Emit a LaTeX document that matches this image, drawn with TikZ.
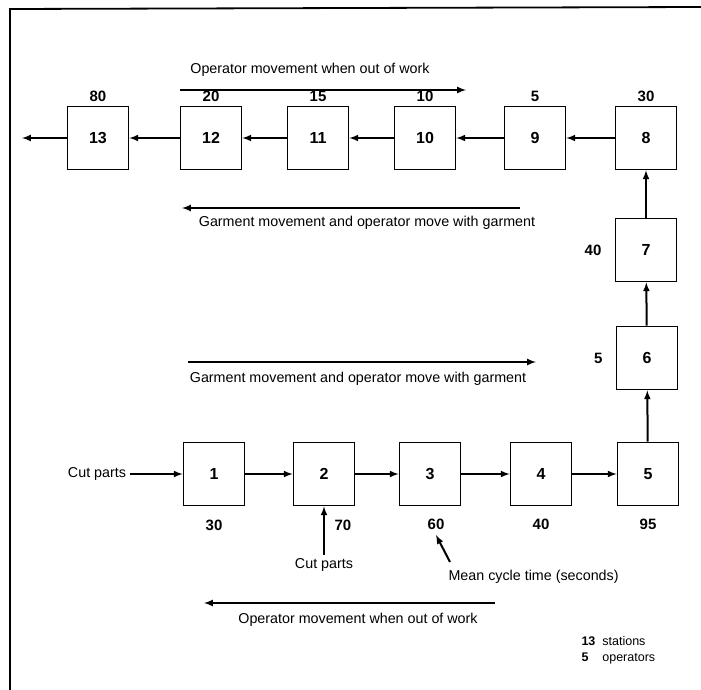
\documentclass[tikz,border=0pt]{standalone}
\usepackage{fontspec}
\setmainfont{Liberation Sans}
\usetikzlibrary{arrows}
\usetikzlibrary{positioning, math}

\tikzset{
station/.style={draw, line width=1.8pt, minimum width=\w pt, minimum height=\h pt, inner sep=0pt, font=\bfseries\fontsize{16}{16}\selectfont},
tnum/.style={inner sep=1pt, font=\bfseries\fontsize{15}{15}\selectfont},
note/.style={font=\fontsize{14.3}{16}\selectfont},
flow/.style={-latex, line width=2pt},
}

\begin{document}
\begin{tikzpicture}[x=1pt,y=-1pt]
\tikzmath{
\w=61;
\h=63;
}
\useasboundingbox (0,0) rectangle (701,690);

% frame
\draw[line width=1.8pt] (10,690) -- (10,9) -- (701,7);

% top row, garment flows right to left
\foreach \n/\x/\t in {13/98/80, 12/211/20, 11/318/15, 10/425/10, 9/535/5, 8/646/30}{
\node[station] (S\n) at (\x,138) {\n};
\node[tnum, above=3pt of S\n] (T\n) {\t};
}
\foreach \a/\b in {8/9, 9/10, 10/11, 11/12, 12/13}{
\draw[flow] (S\a) -- (S\b);
}
\coordinate (exit) at (22,138);
\draw[flow] (S13) -- (exit);

% right column
\node[station] (S7) at (646,250) {7};
\node[station] (S6) at (647,358) {6};
\node[tnum, left=12pt of S7] (T7) {40};
\node[tnum, left=12pt of S6] (T6) {5};

% bottom row
\foreach \n/\x in {1/214, 2/324, 3/430, 4/541, 5/648}{
\node[station] (S\n) at (\x,474) {\n};
}
\node[tnum, below=12pt of S1] (T1) {30};
\node[tnum, below right=12pt and -22pt of S2] (T2) {70};
\node[tnum, below=11pt of S3, xshift=6pt] (T3) {60};
\node[tnum, below=11pt of S4] (T4) {40};
\node[tnum, below=11pt of S5] (T5) {95};
\foreach \a/\b in {1/2, 2/3, 3/4, 4/5, 5/6, 6/7, 7/8}{
\draw[flow] (S\a) -- (S\b);
}

% inputs
\node[note] (cutA) at (97,474) {Cut parts};
\draw[flow] (cutA) -- (S1);
\node[note] (cutB) at (324,565) {Cut parts};
\draw[flow] (cutB) -- (S2);

\node[note, anchor=west] (mean) at (445,577) {Mean cycle time (seconds)};
\coordinate (cycA) at (450,562);
\coordinate (cycB) at (436,535);
\draw[flow] (cycA) -- (cycB);

% movement arrows
\coordinate (opA) at (180,90);
\coordinate (opB) at (466,90);
\draw[flow] (opA) -- (opB);
\node[note] (opT) at (310,70) {Operator movement when out of work};

\coordinate (gmA) at (520,208);
\coordinate (gmB) at (182,208);
\draw[flow] (gmA) -- (gmB);
\node[note] (gmT) at (367,223) {Garment movement and operator move with garment};

\coordinate (gmC) at (188,362);
\coordinate (gmD) at (536,362);
\draw[flow] (gmC) -- (gmD);
\node[note] (gmU) at (358,379) {Garment movement and operator move with garment};

\coordinate (opC) at (495,603);
\coordinate (opD) at (204,603);
\draw[flow] (opC) -- (opD);
\node[note] (opU) at (358,620) {Operator movement when out of work};

\node[note, anchor=west, align=left, font=\fontsize{12.5}{16}\selectfont] (info) at (578,650) {\textbf{13}\ \ stations\\\textbf{5}\ \ \ \ operators};

\end{tikzpicture}
\end{document}
